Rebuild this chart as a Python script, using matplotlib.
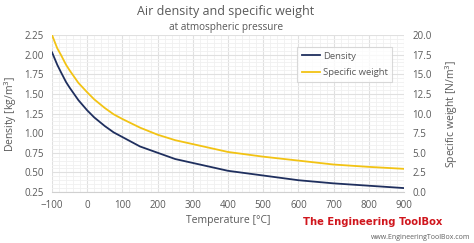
import matplotlib.pyplot as plt
import numpy as np

temperature = [-100, -85, -75, -60, -50, -25, 0, 20, 50, 75, 100, 150, 200, 250, 300, 400, 500, 600, 700, 800, 900]
density = [2.03, 1.87, 1.78, 1.65, 1.58, 1.42, 1.29, 1.20, 1.09, 1.01, 0.95, 0.83, 0.75, 0.67, 0.62, 0.52, 0.46, 0.40, 0.36, 0.33, 0.30]
spec_weight = [20.0, 18.3, 17.5, 16.2, 15.5, 13.9, 12.7, 11.8, 10.7, 9.9, 9.3, 8.2, 7.3, 6.6, 6.1, 5.1, 4.5, 4.0, 3.5, 3.2, 2.95]

plt.rcParams['font.family'] = ['Open Sans', 'DejaVu Sans']
txt = '#595959'

fig = plt.figure(figsize=(4.74, 2.43), dpi=100)
ax = fig.add_axes([52/474, 1 - 192/243, 352/474, 157/243])
ax2 = ax.twinx()

l1, = ax.plot(temperature, density, color='#1f2f5e', lw=1.3, label='Density')
l2, = ax2.plot(temperature, spec_weight, color='#f2c314', lw=1.3, label='Specific weight')

ax.set_xlim(-100, 900)
ax.set_ylim(0.25, 2.25)
ax2.set_ylim(0, 20)
ax.set_xticks(np.arange(-100, 901, 100))
ax.set_yticks(np.arange(0.25, 2.26, 0.25))
ax.set_yticklabels(['%.2f' % v for v in np.arange(0.25, 2.26, 0.25)])
ax2.set_yticks(np.arange(0, 20.1, 2.5))
ax2.set_yticklabels(['%.1f' % v for v in np.arange(0, 20.1, 2.5)])
ax.set_xticks(np.arange(-100, 901, 20), minor=True)
ax.set_yticks(np.arange(0.25, 2.26, 0.05), minor=True)
ax.grid(True, which='minor', color='#f0f0f0', lw=0.6)
ax.grid(True, which='major', color='#e0e0e0', lw=0.8)
ax.set_axisbelow(True)

for a in (ax, ax2):
    for s in a.spines.values():
        s.set_visible(False)
    a.tick_params(which='both', length=0, colors=txt, labelsize=7, pad=6)
ax.spines['bottom'].set_visible(True)
ax.spines['bottom'].set_color('#d0d0d0')

ax.set_xlabel('Temperature [°C]', color=txt, fontsize=7.5, labelpad=3)
ax.set_ylabel('Density [kg/m$^3$]', color=txt, fontsize=7.5, labelpad=4)
ax2.set_ylabel('Specific weight [N/m$^3$]', color=txt, fontsize=7.5, labelpad=8)

leg = ax2.legend(handles=[l1, l2], loc='upper right', bbox_to_anchor=(0.98, 0.955),
                 fontsize=6.8, frameon=True, fancybox=False, handlelength=1.9,
                 handletextpad=0.3, labelspacing=0.8, borderpad=0.5)
leg.get_frame().set_edgecolor('#d0d0d0')
leg.get_frame().set_linewidth(0.8)
for t in leg.get_texts():
    t.set_color(txt)

fig.text(226/474, 1 - 12/243, 'Air density and specific weight', ha='center', va='center',
         color=txt, fontsize=9)
fig.text(226/474, 1 - 27/243, 'at atmospheric pressure', ha='center', va='center',
         color=txt, fontsize=7.2)

fig.text(373/474, 1 - 222/243, 'The Engineering ToolBox', ha='center', va='center',
         color='#d0161d', fontsize=8, fontweight='bold', fontstretch='condensed',
         family=['DejaVu Sans'])
fig.text(470/474, 1 - 237/243, 'www.EngineeringToolBox.com', ha='right', va='center',
         color='#606060', fontsize=5)

fig.savefig('out.png', dpi=100, facecolor='white')
